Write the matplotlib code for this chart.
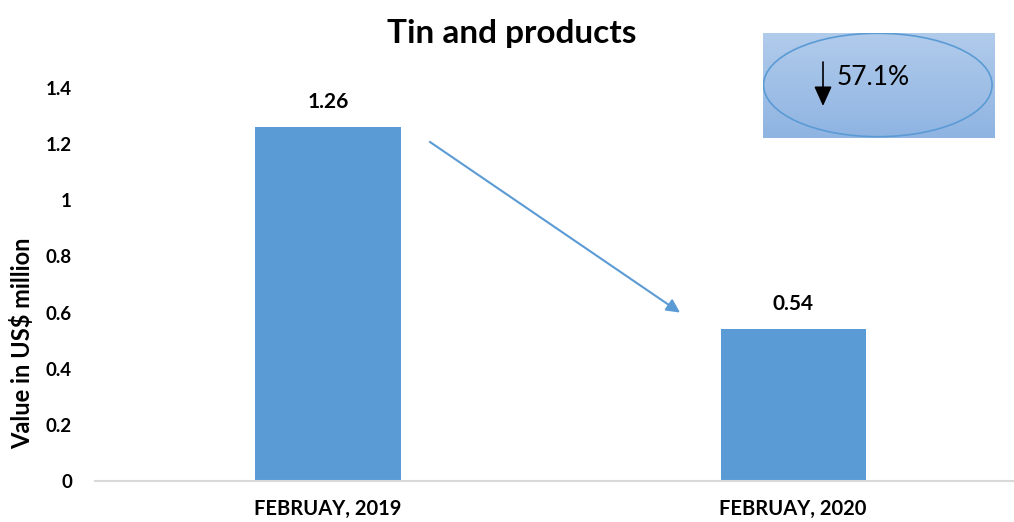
import matplotlib
matplotlib.use("Agg")
import matplotlib.pyplot as plt
import numpy as np
from matplotlib.patches import Ellipse

categories = ["FEBRUAY, 2019", "FEBRUAY, 2020"]
values = [1.26, 0.54]
value_labels = ["1.26", "0.54"]
yticks = [0, 0.2, 0.4, 0.6, 0.8, 1, 1.2, 1.4]
ytick_labels = ["0", "0.2", "0.4", "0.6", "0.8", "1", "1.2", "1.4"]
change_text = "57.1%"

plt.rcParams['font.family'] = ['Lato', 'DejaVu Sans']

W, H = 1014, 522
fig = plt.figure(figsize=(W / 100, H / 100), dpi=100)
ax = fig.add_axes([95 / W, 41 / H, 919 / W, (481 - 88) / H])

bar_color = "#5B9BD5"
x = np.arange(len(categories))
ax.bar(x, values, width=0.312, color=bar_color, zorder=2)
ax.set_xlim(-0.501, 1.475)
ax.set_ylim(0, 1.4)
ax.set_xticks(x)
ax.set_xticklabels(categories, fontsize=14.5, fontweight='bold')
ax.set_yticks(yticks)
ax.set_yticklabels(ytick_labels, fontsize=13.5, fontweight='bold')
ax.tick_params(axis='both', length=0)
ax.tick_params(axis='x', pad=13)
ax.tick_params(axis='y', pad=16.5)
for s in ['top', 'right', 'left']:
    ax.spines[s].set_visible(False)
ax.spines['bottom'].set_color('#D9D9D9')
ax.spines['bottom'].set_linewidth(1.5)

for xi, v, lab in zip(x, values, value_labels):
    ax.annotate(lab, (xi, v), xytext=(0, 13.7), textcoords='offset points',
                ha='center', va='baseline', fontsize=15, fontweight='bold')

ax.set_ylabel("Value in US$ million", fontsize=17, fontweight='bold')
ax.yaxis.set_label_coords(-61 / 919, (481 - 343) / (481 - 88))

# trend arrow
ax.annotate("", xy=(0.757, 0.60), xytext=(0.219, 1.208),
            arrowprops=dict(arrowstyle='-|>', color=bar_color, lw=1.5,
                            mutation_scale=20, shrinkA=0, shrinkB=0), zorder=3)

fig.text(512 / W, 1 - 43 / H, "Tin and products", ha='center', va='baseline',
         fontsize=24, fontweight='bold')

# callout box with gradient
bx = fig.add_axes([763 / W, 1 - 138 / H, (995 - 763) / W, (138 - 33) / H])
top = np.array([0xB1, 0xCB, 0xEB]) / 255
bot = np.array([0x8F, 0xB4, 0xE2]) / 255
t = np.linspace(0, 1, 100)[:, None]
grad = (top[None, :] * (1 - t) + bot[None, :] * t)[:, None, :]
grad = np.repeat(grad, 2, axis=1)
bx.imshow(grad, extent=[0, 1, 0, 1], aspect='auto', origin='upper')
bx.set_xlim(0, 1)
bx.set_ylim(0, 1)
bx.axis('off')
bx.add_patch(Ellipse((0.495, 0.505), 0.985, 0.985, fill=False,
                     edgecolor=bar_color, lw=1.2))
bx.annotate("", xy=(60 / 232, (138 - 106) / 105), xytext=(60 / 232, (138 - 62) / 105),
            arrowprops=dict(arrowstyle='-|>,head_length=0.6,head_width=0.27',
                            color='black', lw=1.2,
                            mutation_scale=20, shrinkA=0, shrinkB=0))
bx.text(74 / 232, (138 - 77.5) / 105, change_text, ha='left', va='center', fontsize=19)

fig.savefig("out.png", dpi=100)
